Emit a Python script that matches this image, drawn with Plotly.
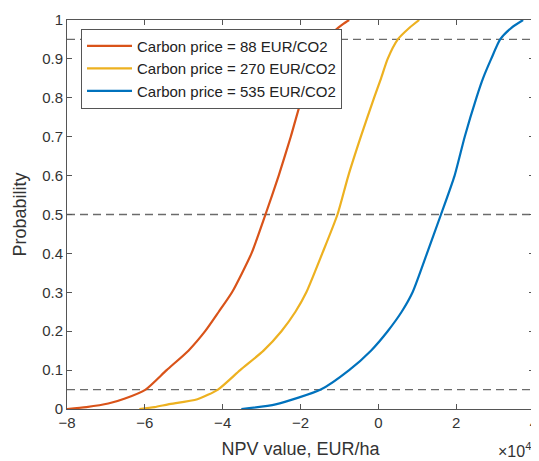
import plotly.graph_objects as go

# NPV values in units of 10^4 EUR/ha
prob_88 = [0, 0.005, 0.014, 0.027, 0.05, 0.1, 0.15, 0.2, 0.25, 0.3, 0.4, 0.5, 0.6, 0.7, 0.8, 0.9, 0.95, 0.974, 0.99, 1.0]
npv_88 = [-8.0, -7.5, -6.94, -6.51, -5.98, -5.44, -4.88, -4.45, -4.1, -3.76, -3.26, -2.9, -2.56, -2.25, -1.96, -1.55, -1.28, -1.1, -0.9, -0.75]

prob_270 = [0, 0.005, 0.012, 0.025, 0.05, 0.1, 0.15, 0.2, 0.25, 0.3, 0.4, 0.5, 0.6, 0.7, 0.8, 0.85, 0.9, 0.95, 0.98, 1.0]
npv_270 = [-6.14, -5.75, -5.4, -4.65, -4.12, -3.55, -2.95, -2.49, -2.13, -1.85, -1.44, -1.05, -0.77, -0.45, -0.11, 0.07, 0.24, 0.5, 0.8, 1.05]

prob_535 = [0, 0.012, 0.05, 0.1, 0.15, 0.2, 0.25, 0.3, 0.4, 0.5, 0.6, 0.7, 0.8, 0.85, 0.9, 0.95, 0.98, 1.0]
npv_535 = [-3.52, -2.64, -1.48, -0.75, -0.19, 0.24, 0.6, 0.88, 1.25, 1.61, 1.96, 2.22, 2.52, 2.69, 2.9, 3.13, 3.42, 3.72]

series_names = ["Carbon price = 88 EUR/CO2", "Carbon price = 270 EUR/CO2", "Carbon price = 535 EUR/CO2"]
series_colors = ["#D95319", "#EDB120", "#0072BD"]

reference_levels = [0.05, 0.5, 0.95]
x_range = [-8, 4]
x_tick_step = 2
y_ticks = [0, 0.1, 0.2, 0.3, 0.4, 0.5, 0.6, 0.7, 0.8, 0.9, 1]
y_tick_labels = ["0", "0.1", "0.2", "0.3", "0.4", "0.5", "0.6", "0.7", "0.8", "0.9", "1"]

FONT = "Liberation Sans, Arial, sans-serif"
TXT = "#333333"
AX = "#555555"

fig = go.Figure()
for xs, ys, name, color in zip([npv_88, npv_270, npv_535], [prob_88, prob_270, prob_535], series_names, series_colors):
    fig.add_trace(go.Scatter(x=xs, y=ys, mode="lines", name=name,
                             line=dict(color=color, width=2.2, shape="spline", smoothing=0.6)))

for lvl in reference_levels:
    fig.add_shape(type="line", xref="paper", yref="y", x0=0, x1=1, y0=lvl, y1=lvl,
                  line=dict(color="#6b6b6b", width=1.3, dash="8px,5px"), layer="below")

axis_common = dict(showgrid=False, zeroline=False, showline=True, linecolor=AX, linewidth=1,
                   ticks="inside", ticklen=5, tickcolor=AX, mirror="allticks", automargin=False,
                   tickfont=dict(family=FONT, size=15, color=TXT))

# The page body has an 8px default margin, so the figure is sized to fit the window.
fig.update_layout(
    width=531, height=453,
    margin=dict(l=59, r=5, t=12, b=52),
    paper_bgcolor="white", plot_bgcolor="white",
    font=dict(family=FONT, size=15, color=TXT),
    showlegend=True,
    legend=dict(x=0.03, y=0.978, xanchor="left", yanchor="top",
                bordercolor=AX, borderwidth=1, bgcolor="white",
                font=dict(family=FONT, size=15, color="#222222"),
                tracegroupgap=0, itemwidth=45),
    xaxis=dict(range=x_range, tickmode="linear", tick0=x_range[0], dtick=x_tick_step,
               ticklabeloverflow="allow",
               title=dict(text="NPV value, EUR/ha", font=dict(family=FONT, size=18, color=TXT), standoff=12),
               **axis_common),
    yaxis=dict(range=[0, 1], tickvals=y_ticks, ticktext=y_tick_labels,
               title=dict(text="Probability", font=dict(family=FONT, size=18, color=TXT), standoff=10),
               **axis_common),
)

fig.add_annotation(xref="paper", yref="paper", x=0.997, y=-0.135, xanchor="right", yanchor="bottom",
                   text="×10<sup>4</sup>", showarrow=False,
                   font=dict(family=FONT, size=16, color=TXT))

fig.write_html("out.html", config={"displayModeBar": False})
